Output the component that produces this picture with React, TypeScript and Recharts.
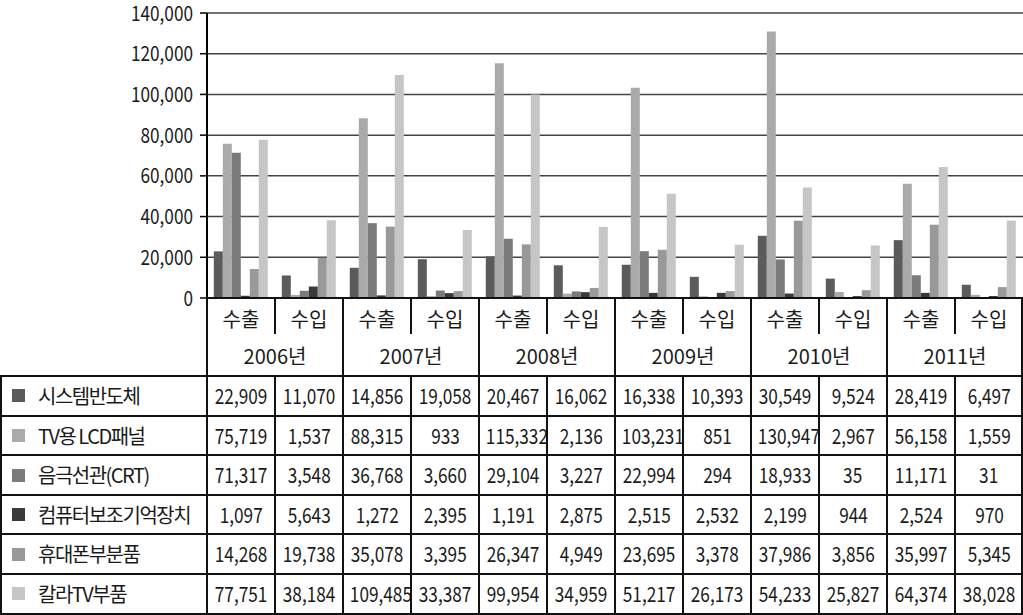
import React from "react";
import { BarChart, Bar, YAxis, XAxis, CartesianGrid } from "recharts";

const years = ["2006년", "2007년", "2008년", "2009년", "2010년", "2011년"];
const flows = ["수출", "수입"];
const seriesNames = [
  "시스템반도체",
  "TV용 LCD패널",
  "음극선관(CRT)",
  "컴퓨터보조기억장치",
  "휴대폰부분품",
  "칼라TV부품",
];
const seriesColors = ["#5b5b5b", "#aaaaaa", "#7b7b7b", "#3a3a3a", "#999999", "#c6c6c6"];

const systemSemi = [22909, 11070, 14856, 19058, 20467, 16062, 16338, 10393, 30549, 9524, 28419, 6497];
const lcdPanel = [75719, 1537, 88315, 933, 115332, 2136, 103231, 851, 130947, 2967, 56158, 1559];
const crt = [71317, 3548, 36768, 3660, 29104, 3227, 22994, 294, 18933, 35, 11171, 31];
const storage = [1097, 5643, 1272, 2395, 1191, 2875, 2515, 2532, 2199, 944, 2524, 970];
const phoneParts = [14268, 19738, 35078, 3395, 26347, 4949, 23695, 3378, 37986, 3856, 35997, 5345];
const colorTvParts = [77751, 38184, 109485, 33387, 99954, 34959, 51217, 26173, 54233, 25827, 64374, 38028];

const yTicks = [0, 20000, 40000, 60000, 80000, 100000, 120000, 140000];

const series = [systemSemi, lcdPanel, crt, storage, phoneParts, colorTvParts];

const data = years.flatMap((y, yi) =>
  flows.map((f, fi) => {
    const i = yi * 2 + fi;
    const row: Record<string, string | number> = { name: `${y} ${f}` };
    series.forEach((s, si) => {
      row[`s${si}`] = s[i];
    });
    return row;
  })
);

const fmt = (v: number) => v.toLocaleString("en-US");

const krFont = "'Noto Sans CJK KR', sans-serif";
const NARROW = 0.82;

const LEFT = 207;
const COL = 68;
const LINE = "#111";

function HLine({ x1, x2, y }: { x1: number; x2: number; y: number }) {
  return (
    <div style={{ position: "absolute", left: x1, top: y - 1, width: x2 - x1, height: 2, background: LINE }} />
  );
}

function VLine({ x, y1, y2 }: { x: number; y1: number; y2: number }) {
  return (
    <div style={{ position: "absolute", left: x - 1, top: y1, width: 2, height: y2 - y1, background: LINE }} />
  );
}

function Cell({ x, y, w, h, text, size, narrow }: any) {
  return (
    <div
      style={{
        position: "absolute",
        left: x,
        top: y,
        width: w,
        height: h,
        lineHeight: `${h}px`,
        textAlign: "center",
        fontFamily: krFont,
        fontSize: size,
        color: "#1a1a1a",
        whiteSpace: "nowrap",
      }}
    >
      <span style={{ display: "inline-block", transform: narrow ? `scaleX(${NARROW})` : undefined }}>{text}</span>
    </div>
  );
}

function YTick({ x, y, payload }: any) {
  return (
    <g transform={`translate(${x},${y}) scale(${NARROW},1)`}>
      <text x={0} y={0} dy="0.36em" textAnchor="end" fontFamily={krFont} fontSize={21} fill="#1a1a1a">
        {fmt(payload.value)}
      </text>
    </g>
  );
}

export default function App() {
  const rowTop = 376;
  const rowH = 39.6;
  const bottom = 614;
  const lines: React.ReactNode[] = [];

  lines.push(<HLine key="h0" x1={LEFT} x2={1023} y={298} />);
  lines.push(<HLine key="h1" x1={0} x2={1023} y={rowTop} />);
  for (let r = 1; r <= 6; r++) {
    lines.push(<HLine key={`hr${r}`} x1={0} x2={1023} y={Math.round(rowTop + r * rowH)} />);
  }
  lines.push(<VLine key="v0" x={1} y1={rowTop} y2={bottom} />);
  lines.push(<VLine key="vl" x={LEFT} y1={298} y2={bottom} />);
  for (let g = 1; g <= 6; g++) {
    lines.push(<VLine key={`vg${g}`} x={Math.min(LEFT + g * 2 * COL, 1022)} y1={298} y2={bottom} />);
  }
  for (let g = 0; g < 6; g++) {
    const x = LEFT + g * 2 * COL + COL;
    lines.push(<VLine key={`vs${g}`} x={x} y1={298} y2={334} />);
    lines.push(<VLine key={`vd${g}`} x={x} y1={rowTop} y2={bottom} />);
  }

  return (
    <div style={{ position: "absolute", left: 0, top: 0, width: 1023, height: 615, background: "#fff" }}>
      <BarChart
        width={1023}
        height={320}
        data={data}
        margin={{ top: 13, right: 0, bottom: 22, left: 0 }}
        barCategoryGap="10%"
        barGap={0}
        style={{ overflow: "visible" }}
      >
        <CartesianGrid vertical={false} stroke="#444" strokeWidth={1.5} />
        <XAxis dataKey="name" hide />
        <YAxis
          width={LEFT}
          domain={[0, 140000]}
          ticks={yTicks}
          interval={0}
          tickSize={7}
          tickMargin={7}
          axisLine={{ stroke: "#000", strokeWidth: 2 }}
          tickLine={{ stroke: "#000", strokeWidth: 1.5 }}
          tick={<YTick />}
        />
        {seriesNames.map((n, si) => (
          <Bar key={n} dataKey={`s${si}`} name={n} fill={seriesColors[si]} isAnimationActive={false} />
        ))}
      </BarChart>

      {years.map((y, yi) => (
        <React.Fragment key={y}>
          {flows.map((f, fi) => (
            <Cell key={f} x={LEFT + (yi * 2 + fi) * COL} y={302} w={COL} h={34} text={f} size={20} />
          ))}
          <Cell x={LEFT + yi * 2 * COL} y={337} w={COL * 2} h={38} text={y} size={20} />
        </React.Fragment>
      ))}

      {seriesNames.map((n, si) => {
        const top = rowTop + si * rowH;
        return (
          <React.Fragment key={n}>
            <div
              style={{
                position: "absolute",
                left: 12,
                top: top + rowH / 2 - 6.5,
                width: 13,
                height: 13,
                background: seriesColors[si],
              }}
            />
            <div
              style={{
                position: "absolute",
                left: 38,
                top,
                height: rowH,
                lineHeight: `${rowH}px`,
                fontFamily: krFont,
                fontSize: 20,
                letterSpacing: -1.5,
                color: "#1a1a1a",
                whiteSpace: "nowrap",
              }}
            >
              {n}
            </div>
            {series[si].map((v, i) => (
              <Cell key={i} x={LEFT + i * COL} y={top} w={COL} h={rowH} text={fmt(v)} size={21} narrow />
            ))}
          </React.Fragment>
        );
      })}

      {lines}
    </div>
  );
}
